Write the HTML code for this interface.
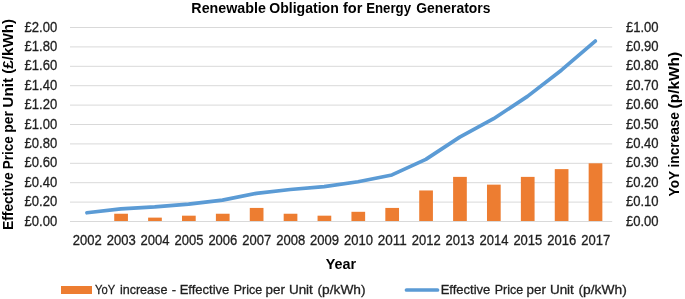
<!DOCTYPE html>
<html><head><meta charset="utf-8"><style>
html,body{margin:0;padding:0;background:#fff;width:685px;height:299px;overflow:hidden}
svg{display:block;font-family:"Liberation Sans",sans-serif;will-change:transform}
.r{stroke:#1f1f1f;stroke-width:0.3px}
</style></head><body>
<svg width="685" height="299" viewBox="0 0 685 299">
<rect width="685" height="299" fill="#fff"/>
<line x1="70.0" x2="612.2" y1="202.10" y2="202.10" stroke="#d9d9d9" stroke-width="1.0"/>
<line x1="70.0" x2="612.2" y1="182.70" y2="182.70" stroke="#d9d9d9" stroke-width="1.0"/>
<line x1="70.0" x2="612.2" y1="163.30" y2="163.30" stroke="#d9d9d9" stroke-width="1.0"/>
<line x1="70.0" x2="612.2" y1="143.90" y2="143.90" stroke="#d9d9d9" stroke-width="1.0"/>
<line x1="70.0" x2="612.2" y1="124.50" y2="124.50" stroke="#d9d9d9" stroke-width="1.0"/>
<line x1="70.0" x2="612.2" y1="105.10" y2="105.10" stroke="#d9d9d9" stroke-width="1.0"/>
<line x1="70.0" x2="612.2" y1="85.70" y2="85.70" stroke="#d9d9d9" stroke-width="1.0"/>
<line x1="70.0" x2="612.2" y1="66.30" y2="66.30" stroke="#d9d9d9" stroke-width="1.0"/>
<line x1="70.0" x2="612.2" y1="46.90" y2="46.90" stroke="#d9d9d9" stroke-width="1.0"/>
<line x1="70.0" x2="612.2" y1="27.50" y2="27.50" stroke="#d9d9d9" stroke-width="1.0"/>
<rect x="114.23" y="213.74" width="13.7" height="7.76" fill="#ED7D31"/>
<rect x="148.12" y="217.62" width="13.7" height="3.88" fill="#ED7D31"/>
<rect x="182.01" y="215.68" width="13.7" height="5.82" fill="#ED7D31"/>
<rect x="215.89" y="213.74" width="13.7" height="7.76" fill="#ED7D31"/>
<rect x="249.78" y="207.92" width="13.7" height="13.58" fill="#ED7D31"/>
<rect x="283.67" y="213.74" width="13.7" height="7.76" fill="#ED7D31"/>
<rect x="317.56" y="215.68" width="13.7" height="5.82" fill="#ED7D31"/>
<rect x="351.44" y="211.80" width="13.7" height="9.70" fill="#ED7D31"/>
<rect x="385.33" y="207.92" width="13.7" height="13.58" fill="#ED7D31"/>
<rect x="419.22" y="190.46" width="13.7" height="31.04" fill="#ED7D31"/>
<rect x="453.11" y="176.88" width="13.7" height="44.62" fill="#ED7D31"/>
<rect x="486.99" y="184.64" width="13.7" height="36.86" fill="#ED7D31"/>
<rect x="520.88" y="176.88" width="13.7" height="44.62" fill="#ED7D31"/>
<rect x="554.77" y="169.12" width="13.7" height="52.38" fill="#ED7D31"/>
<rect x="588.66" y="163.30" width="13.7" height="58.20" fill="#ED7D31"/>
<line x1="70.0" x2="612.2" y1="221.50" y2="221.50" stroke="#d9d9d9" stroke-width="1.0"/>
<polyline points="86.94,212.77 120.83,208.89 154.72,206.95 188.61,204.04 222.49,200.16 256.38,193.37 290.27,189.49 324.16,186.58 358.04,181.73 391.93,174.94 425.82,159.42 459.71,137.11 493.59,118.68 527.48,96.37 561.37,70.18 595.26,41.08" fill="none" stroke="#5B9BD5" stroke-width="3.7" stroke-linejoin="round" stroke-linecap="round"/>
<g class="r" font-size="14.0" fill="#1f1f1f">
<text x="24.50" y="225.50" textLength="32.7" lengthAdjust="spacingAndGlyphs">£0.00</text>
<text x="24.50" y="206.10" textLength="32.7" lengthAdjust="spacingAndGlyphs">£0.20</text>
<text x="24.50" y="186.70" textLength="32.7" lengthAdjust="spacingAndGlyphs">£0.40</text>
<text x="24.50" y="167.30" textLength="32.7" lengthAdjust="spacingAndGlyphs">£0.60</text>
<text x="24.50" y="147.90" textLength="32.7" lengthAdjust="spacingAndGlyphs">£0.80</text>
<text x="24.50" y="128.50" textLength="32.7" lengthAdjust="spacingAndGlyphs">£1.00</text>
<text x="24.50" y="109.10" textLength="32.7" lengthAdjust="spacingAndGlyphs">£1.20</text>
<text x="24.50" y="89.70" textLength="32.7" lengthAdjust="spacingAndGlyphs">£1.40</text>
<text x="24.50" y="70.30" textLength="32.7" lengthAdjust="spacingAndGlyphs">£1.60</text>
<text x="24.50" y="50.90" textLength="32.7" lengthAdjust="spacingAndGlyphs">£1.80</text>
<text x="24.50" y="31.50" textLength="32.7" lengthAdjust="spacingAndGlyphs">£2.00</text>
<text x="625.9" y="225.50" textLength="32.7" lengthAdjust="spacingAndGlyphs">£0.00</text>
<text x="625.9" y="206.10" textLength="32.7" lengthAdjust="spacingAndGlyphs">£0.10</text>
<text x="625.9" y="186.70" textLength="32.7" lengthAdjust="spacingAndGlyphs">£0.20</text>
<text x="625.9" y="167.30" textLength="32.7" lengthAdjust="spacingAndGlyphs">£0.30</text>
<text x="625.9" y="147.90" textLength="32.7" lengthAdjust="spacingAndGlyphs">£0.40</text>
<text x="625.9" y="128.50" textLength="32.7" lengthAdjust="spacingAndGlyphs">£0.50</text>
<text x="625.9" y="109.10" textLength="32.7" lengthAdjust="spacingAndGlyphs">£0.60</text>
<text x="625.9" y="89.70" textLength="32.7" lengthAdjust="spacingAndGlyphs">£0.70</text>
<text x="625.9" y="70.30" textLength="32.7" lengthAdjust="spacingAndGlyphs">£0.80</text>
<text x="625.9" y="50.90" textLength="32.7" lengthAdjust="spacingAndGlyphs">£0.90</text>
<text x="625.9" y="31.50" textLength="32.7" lengthAdjust="spacingAndGlyphs">£1.00</text>
<text x="72.84" y="245.2" textLength="29.0" lengthAdjust="spacingAndGlyphs">2002</text>
<text x="106.73" y="245.2" textLength="29.0" lengthAdjust="spacingAndGlyphs">2003</text>
<text x="140.62" y="245.2" textLength="29.0" lengthAdjust="spacingAndGlyphs">2004</text>
<text x="174.51" y="245.2" textLength="29.0" lengthAdjust="spacingAndGlyphs">2005</text>
<text x="208.39" y="245.2" textLength="29.0" lengthAdjust="spacingAndGlyphs">2006</text>
<text x="242.28" y="245.2" textLength="29.0" lengthAdjust="spacingAndGlyphs">2007</text>
<text x="276.17" y="245.2" textLength="29.0" lengthAdjust="spacingAndGlyphs">2008</text>
<text x="310.06" y="245.2" textLength="29.0" lengthAdjust="spacingAndGlyphs">2009</text>
<text x="343.94" y="245.2" textLength="29.0" lengthAdjust="spacingAndGlyphs">2010</text>
<text x="377.83" y="245.2" textLength="29.0" lengthAdjust="spacingAndGlyphs">2011</text>
<text x="411.72" y="245.2" textLength="29.0" lengthAdjust="spacingAndGlyphs">2012</text>
<text x="445.61" y="245.2" textLength="29.0" lengthAdjust="spacingAndGlyphs">2013</text>
<text x="479.49" y="245.2" textLength="29.0" lengthAdjust="spacingAndGlyphs">2014</text>
<text x="513.38" y="245.2" textLength="29.0" lengthAdjust="spacingAndGlyphs">2015</text>
<text x="547.27" y="245.2" textLength="29.0" lengthAdjust="spacingAndGlyphs">2016</text>
<text x="581.16" y="245.2" textLength="29.0" lengthAdjust="spacingAndGlyphs">2017</text>
</g>
<text x="191.35" y="12.7" font-size="15.0" font-weight="bold" fill="#000" textLength="74.55" lengthAdjust="spacingAndGlyphs">Renewable</text>
<text x="269.20" y="12.7" font-size="15.0" font-weight="bold" fill="#000" textLength="69.57" lengthAdjust="spacingAndGlyphs">Obligation</text>
<text x="342.96" y="12.7" font-size="15.0" font-weight="bold" fill="#000" textLength="19.38" lengthAdjust="spacingAndGlyphs">for</text>
<text x="366.22" y="12.7" font-size="15.0" font-weight="bold" fill="#000" textLength="44.78" lengthAdjust="spacingAndGlyphs">Energy</text>
<text x="416.31" y="12.7" font-size="15.0" font-weight="bold" fill="#000" textLength="74.10" lengthAdjust="spacingAndGlyphs">Generators</text>
<text x="325.79" y="268.6" font-size="14.0" font-weight="bold" fill="#000" textLength="30.37" lengthAdjust="spacingAndGlyphs">Year</text>
<text transform="translate(13.0,300.0) rotate(-90)" x="70.01" y="0" font-size="14.0" font-weight="bold" fill="#000" textLength="57.59" lengthAdjust="spacingAndGlyphs">Effective</text>
<text transform="translate(13.0,300.0) rotate(-90)" x="130.84" y="0" font-size="14.0" font-weight="bold" fill="#000" textLength="33.05" lengthAdjust="spacingAndGlyphs">Price</text>
<text transform="translate(13.0,300.0) rotate(-90)" x="167.31" y="0" font-size="14.0" font-weight="bold" fill="#000" textLength="21.58" lengthAdjust="spacingAndGlyphs">per</text>
<text transform="translate(13.0,300.0) rotate(-90)" x="192.38" y="0" font-size="14.0" font-weight="bold" fill="#000" textLength="29.76" lengthAdjust="spacingAndGlyphs">Unit</text>
<text transform="translate(13.0,300.0) rotate(-90)" x="226.18" y="0" font-size="14.0" font-weight="bold" fill="#000" textLength="55.00" lengthAdjust="spacingAndGlyphs">(£/kWh)</text>
<text transform="translate(678.5,300.0) rotate(-90)" x="103.61" y="0" font-size="14.0" font-weight="bold" fill="#000" textLength="25.53" lengthAdjust="spacingAndGlyphs">YoY</text>
<text transform="translate(678.5,300.0) rotate(-90)" x="132.52" y="0" font-size="14.0" font-weight="bold" fill="#000" textLength="55.44" lengthAdjust="spacingAndGlyphs">increase</text>
<text transform="translate(678.5,300.0) rotate(-90)" x="191.57" y="0" font-size="14.0" font-weight="bold" fill="#000" textLength="56.64" lengthAdjust="spacingAndGlyphs">(p/kWh)</text>
<text x="94.98" y="294.0" font-size="13.0" font-weight="normal" fill="#1f1f1f" class="r" textLength="20.14" lengthAdjust="spacingAndGlyphs">YoY</text>
<text x="119.88" y="294.0" font-size="13.0" font-weight="normal" fill="#1f1f1f" class="r" textLength="47.50" lengthAdjust="spacingAndGlyphs">increase</text>
<text x="171.80" y="294.0" font-size="13.0" font-weight="normal" fill="#1f1f1f" class="r">-</text>
<text x="179.70" y="294.0" font-size="13.0" font-weight="normal" fill="#1f1f1f" class="r" textLength="49.68" lengthAdjust="spacingAndGlyphs">Effective</text>
<text x="233.74" y="294.0" font-size="13.0" font-weight="normal" fill="#1f1f1f" class="r" textLength="28.42" lengthAdjust="spacingAndGlyphs">Price</text>
<text x="265.63" y="294.0" font-size="13.0" font-weight="normal" fill="#1f1f1f" class="r" textLength="19.32" lengthAdjust="spacingAndGlyphs">per</text>
<text x="288.92" y="294.0" font-size="13.0" font-weight="normal" fill="#1f1f1f" class="r" textLength="23.95" lengthAdjust="spacingAndGlyphs">Unit</text>
<text x="317.51" y="294.0" font-size="13.0" font-weight="normal" fill="#1f1f1f" class="r" textLength="48.09" lengthAdjust="spacingAndGlyphs">(p/kWh)</text>
<text x="440.70" y="294.0" font-size="13.0" font-weight="normal" fill="#1f1f1f" class="r" textLength="49.68" lengthAdjust="spacingAndGlyphs">Effective</text>
<text x="494.74" y="294.0" font-size="13.0" font-weight="normal" fill="#1f1f1f" class="r" textLength="28.42" lengthAdjust="spacingAndGlyphs">Price</text>
<text x="526.63" y="294.0" font-size="13.0" font-weight="normal" fill="#1f1f1f" class="r" textLength="19.32" lengthAdjust="spacingAndGlyphs">per</text>
<text x="549.92" y="294.0" font-size="13.0" font-weight="normal" fill="#1f1f1f" class="r" textLength="23.95" lengthAdjust="spacingAndGlyphs">Unit</text>
<text x="578.50" y="294.0" font-size="13.0" font-weight="normal" fill="#1f1f1f" class="r" textLength="48.29" lengthAdjust="spacingAndGlyphs">(p/kWh)</text>
<rect x="61" y="286" width="31" height="8" fill="#ED7D31"/>
<line x1="406.5" x2="437.5" y1="290" y2="290" stroke="#5B9BD5" stroke-width="3.7" stroke-linecap="round"/>
</svg>
</body></html>
